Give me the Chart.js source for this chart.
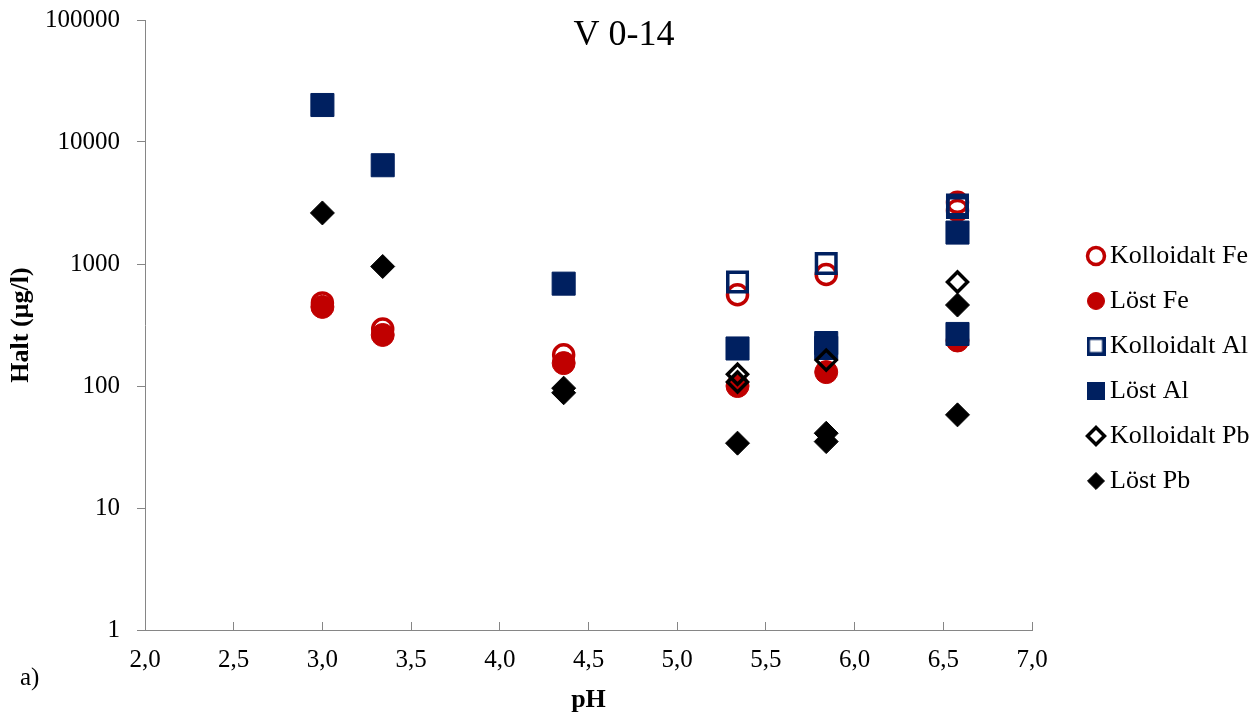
<!DOCTYPE html>
<html><head><meta charset="utf-8">
<script src="https://cdn.jsdelivr.net/npm/chart.js@4.4.1/dist/chart.umd.min.js"></script>
<style>html,body{margin:0;padding:0;background:#fff}canvas{display:block}</style>
</head><body>
<canvas id="c" width="1258" height="719"></canvas>
<script>
const chartTitle = 'V 0-14';
const panelLabel = 'a)';
const xTitle = 'pH';
const yTitle = 'Halt (µg/l)';
const seriesNames = ['Kolloidalt Fe', 'Löst Fe', 'Kolloidalt Al', 'Löst Al', 'Kolloidalt Pb', 'Löst Pb'];
const xTicks = [2.0, 2.5, 3.0, 3.5, 4.0, 4.5, 5.0, 5.5, 6.0, 6.5, 7.0];
const yTicks = [1, 10, 100, 1000, 10000, 100000];

const kollFe_pH = [3.0, 3.34, 4.36, 5.34, 5.84, 6.58, 6.58];
const kollFe    = [480, 293, 180, 560, 820, 3200, 2750];
const lostFe_pH = [3.0, 3.34, 4.36, 5.34, 5.84, 6.58];
const lostFe    = [445, 262, 154, 100, 130, 236];
const kollAl_pH = [5.34, 5.84, 6.58, 6.58];
const kollAl    = [712, 1010, 3050, 2900];
const lostAl_pH = [3.0, 3.34, 4.36, 5.34, 5.84, 5.84, 6.58, 6.58];
const lostAl    = [20100, 6450, 690, 203, 225, 205, 1810, 267];
const kollPb_pH = [5.34, 5.34, 5.84, 6.58];
const kollPb    = [125, 108, 163, 712];
const lostPb_pH = [3.0, 3.34, 4.36, 4.36, 5.34, 5.84, 5.84, 6.58, 6.58];
const lostPb    = [2620, 954, 96, 88, 34, 41, 35, 461, 58];

const RED = '#C00000', NAVY = '#002060', BLACK = '#000000';
const FAMILY = '"Liberation Serif", "Times New Roman", serif';

function pts(xs, ys) { return xs.map((x, i) => ({ x: x, y: ys[i] })); }
function ds(i, xs, ys, color, style, radius, bw, hollow) {
  return {
    label: seriesNames[i],
    data: pts(xs, ys),
    order: 10 - i,
    pointStyle: style,
    pointRadius: radius,
    pointHoverRadius: radius,
    pointBorderWidth: bw,
    pointHoverBorderWidth: bw,
    pointBorderColor: color,
    pointBackgroundColor: hollow ? 'rgba(255,255,255,0)' : color,
    borderColor: color,
    backgroundColor: hollow ? 'rgba(255,255,255,0)' : color,
    showLine: false
  };
}

const datasets = [
  ds(0, kollFe_pH, kollFe, RED,   'circle',  10,   3.5, true),
  ds(1, lostFe_pH, lostFe, RED,   'circle',  11.5, 1,   false),
  ds(2, kollAl_pH, kollAl, NAVY,  'rect',    13.8, 3.5, true),
  ds(3, lostAl_pH, lostAl, NAVY,  'rect',    16.3, 1,   false),
  ds(4, kollPb_pH, kollPb, BLACK, 'rectRot', 10,   3.5, true),
  ds(5, lostPb_pH, lostPb, BLACK, 'rectRot', 12,   1,   false)
];

function squareIcon(size, bw, filled, color) {
  const c = document.createElement('canvas');
  c.width = size; c.height = size;
  const g = c.getContext('2d');
  if (filled) { g.fillStyle = color; g.fillRect(0, 0, size, size); }
  else { g.strokeStyle = color; g.lineWidth = bw; g.strokeRect(bw / 2, bw / 2, size - bw, size - bw); }
  return c;
}
const legendIcons = { 2: squareIcon(19, 3.5, false, NAVY), 3: squareIcon(18, 0, true, NAVY) };

const extraText = {
  id: 'extraText',
  afterDraw(chart) {
    const ctx = chart.ctx;
    ctx.save();
    ctx.fillStyle = '#000';
    ctx.font = '36px ' + FAMILY;
    ctx.textAlign = 'center';
    ctx.textBaseline = 'alphabetic';
    ctx.fillText(chartTitle, 624, 45);
    ctx.font = '25px ' + FAMILY;
    ctx.textAlign = 'left';
    ctx.fillText(panelLabel, 20, 685);
    ctx.restore();
  }
};
const legendShift = {
  id: 'legendShift',
  afterLayout(chart) {
    const lg = chart.legend;
    if (!lg) return;
    lg.left = 1076;
    lg.right = 1258;
    lg.width = 1258 - 1076;
  }
};

new Chart(document.getElementById('c'), {
  type: 'scatter',
  data: { datasets: datasets },
  plugins: [extraText, legendShift],
  options: {
    responsive: false,
    animation: false,
    devicePixelRatio: 1,
    layout: { padding: { top: 20, bottom: 2, left: 0, right: 106 } },
    plugins: {
      tooltip: { enabled: false },
      title: { display: false },
      legend: {
        display: true,
        position: 'right',
        align: 'center',
        maxWidth: 120,
        labels: {
          usePointStyle: true,
          boxWidth: 2,
          boxHeight: 12,
          padding: 19,
          color: '#000',
          font: { family: FAMILY, size: 26 },
          sort: (a, b) => a.datasetIndex - b.datasetIndex,
          generateLabels: chart => {
            const items = Chart.defaults.plugins.legend.labels.generateLabels(chart);
            items.forEach(it => { if (legendIcons[it.datasetIndex]) it.pointStyle = legendIcons[it.datasetIndex]; });
            return items;
          }
        }
      }
    },
    scales: {
      x: {
        type: 'linear',
        position: 'bottom',
        min: 2, max: 7,
        afterBuildTicks: s => { s.ticks = xTicks.map(v => ({ value: v })); },
        afterFit: s => { s.height = 87; s.paddingLeft = 0; s.paddingRight = 0; },
        border: { color: '#868686', width: 1 },
        grid: { drawOnChartArea: false, drawTicks: true, tickLength: -8, color: '#868686' },
        ticks: {
          color: '#000', padding: 23, maxRotation: 0, autoSkip: false,
          font: { family: FAMILY, size: 25 },
          callback: v => Number(v).toFixed(1).replace('.', ',')
        },
        title: { display: true, text: xTitle, color: '#000', font: { family: FAMILY, size: 26, weight: 'bold' }, padding: { top: 0, bottom: 1.5 } }
      },
      y: {
        type: 'logarithmic',
        position: 'left',
        min: 1, max: 100000,
        afterBuildTicks: s => { s.ticks = yTicks.map(v => ({ value: v })); },
        afterFit: s => { s.width = 145; s.paddingTop = 0; s.paddingBottom = 0; },
        border: { color: '#868686', width: 1 },
        grid: { drawOnChartArea: false, drawTicks: true, tickLength: 8, color: '#868686' },
        ticks: {
          color: '#000', padding: 17,
          font: { family: FAMILY, size: 25 },
          callback: v => String(v)
        },
        title: { display: true, text: yTitle, color: '#000', font: { family: FAMILY, size: 26, weight: 'bold' }, padding: { top: 6, bottom: 0 } }
      }
    }
  }
});
</script>
</body></html>
